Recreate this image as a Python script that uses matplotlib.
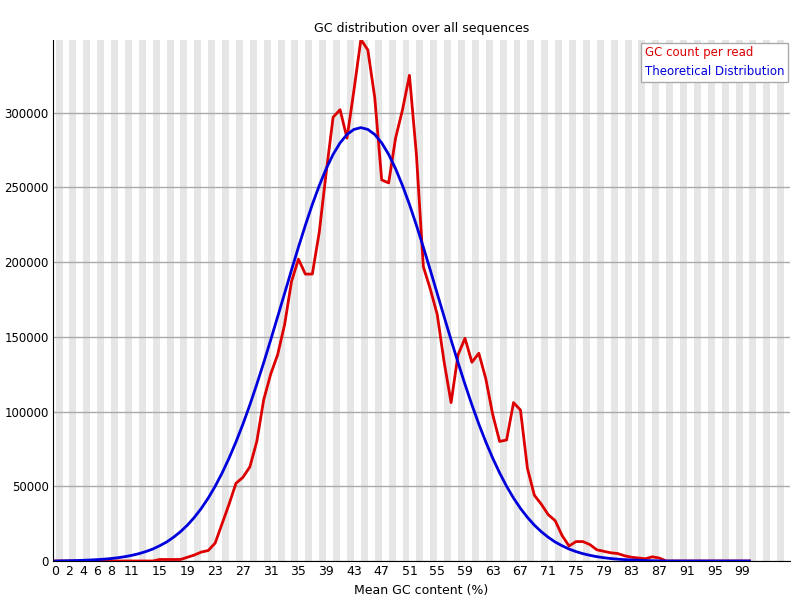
import matplotlib
matplotlib.use("Agg")
import matplotlib.pyplot as plt

gc = list(range(101))

gc_count = [0] * 15 + [
    1000, 1000, 1000, 1000, 2500, 4000, 6000, 7000, 12000, 25000,          # 15-24
    38000, 52000, 56000, 63000, 80000, 108000, 125000, 138000, 158000, 187000,  # 25-34
    202000, 192000, 192000, 220000, 260000, 297000, 302000, 283000, 315000, 349000,  # 35-44
    342000, 310000, 255000, 253000, 283000, 302000, 325000, 272000, 197000, 182000,  # 45-54
    165000, 133000, 106000, 138000, 149000, 133000, 139000, 122000, 98000, 80000,  # 55-64
    81000, 106000, 101000, 62000, 44000, 38000, 31000, 27000, 17000, 10000,  # 65-74
    13000, 13000, 11000, 7500, 6500, 5500, 5000, 3500, 2500, 2000,  # 75-84
    1500, 2800, 2000, 0, 0, 0, 0, 0, 0, 0,  # 85-94
    0, 0, 0, 0, 0, 0,  # 95-100
]

theoretical = [
    0, 100, 200, 300, 490, 680, 920, 1240, 1650, 2200,
    2900, 3800, 4900, 6300, 8000, 10200, 12700, 15900, 19600, 24000,
    29200, 35200, 42100, 50000, 58900, 68800, 79700, 91600, 104500, 118300,
    132800, 147900, 163400, 179000, 194700, 210000, 224700, 238600, 251200, 262500,
    272100, 279800, 285400, 288800, 290000, 288800, 285400, 279800, 272100, 262500,
    251200, 238600, 224700, 210000, 194700, 179000, 163400, 147900, 132800, 118300,
    104500, 91600, 79700, 68800, 58900, 50000, 42100, 35200, 29200, 24000,
    19600, 15900, 12700, 10200, 8000, 6300, 4900, 3800, 2900, 2200,
    1650, 1240, 920, 680, 490, 300, 200, 100, 0, 0,
    0, 0, 0, 0, 0, 0, 0, 0, 0, 0, 0,
]

tick_labels = [0, 2, 4, 6, 8, 11, 15, 19, 23, 27, 31, 35, 39, 43, 47, 51, 55, 59,
               63, 67, 71, 75, 79, 83, 87, 91, 95, 99]

fig = plt.figure(figsize=(8, 6), dpi=100)
ax = fig.add_axes([0.066, 0.065, 0.922, 0.868])
for i in range(0, 106, 2):
    ax.axvspan(i, i + 1, color="#e6e6e6", lw=0, zorder=0)
for y in range(0, 350001, 50000):
    ax.axhline(y, color="#aaaaaa", lw=1, zorder=1)
ax.plot(gc, gc_count, color="#dd0000", lw=2, label="GC count per read", zorder=3)
ax.plot(gc, theoretical, color="#0000dd", lw=2, label="Theoretical Distribution", zorder=3)
ax.set_xlim(-0.4, 105.9)
ax.set_ylim(0, 348500)
ax.set_xticks(tick_labels)
ax.set_xticklabels([str(t) for t in tick_labels], fontsize=9)
ax.set_yticks(range(0, 350000, 50000))
ax.set_yticklabels([str(y) for y in range(0, 350000, 50000)], fontsize=8.5)
ax.tick_params(length=0, pad=3)
for s in ["top", "right"]:
    ax.spines[s].set_visible(False)
ax.set_xlabel("Mean GC content (%)", fontsize=9)
ax.set_title("GC distribution over all sequences", fontsize=9)
leg = ax.legend(loc="upper right", fontsize=8.5, frameon=True, fancybox=False,
                handlelength=0, handletextpad=0, borderaxespad=0.2, borderpad=0.3,
                framealpha=1)
leg.get_frame().set_edgecolor("#aaaaaa")
for t, c in zip(leg.get_texts(), ["#dd0000", "#0000dd"]):
    t.set_color(c)
fig.savefig("out.png")
